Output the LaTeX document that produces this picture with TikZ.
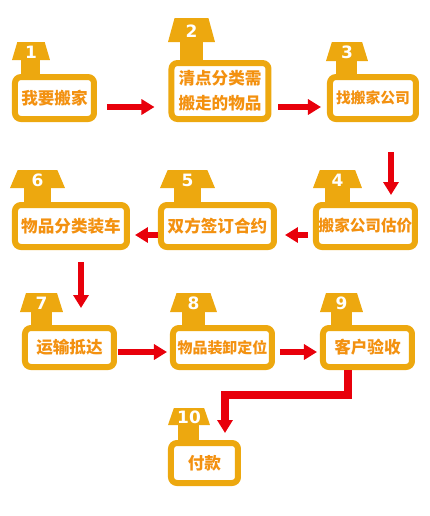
\documentclass[tikz,border=0pt]{standalone}
\usepackage{fontspec}
\newfontfamily\cjk{Noto Sans CJK SC}
\newfontfamily\numfont{DejaVu Sans}
\usetikzlibrary{arrows.meta}

\definecolor{gold}{HTML}{EDA80F}
\definecolor{txtorange}{HTML}{F39110}
\definecolor{flowred}{HTML}{E8000B}

\tikzset{
  stepbox/.style={draw=gold, line width=3pt, fill=white, rounded corners=3pt,
    inner sep=0pt, align=center, text=txtorange,
    font=\cjk\bfseries\fontsize{8.3}{12.5}\selectfont},
  numlabel/.style={text=white, inner sep=0pt, font=\numfont\bfseries\fontsize{8.5}{9}\selectfont},
  flow/.style={draw=flowred, line width=3pt, -{Triangle[length=6.5pt,width=7.5pt]}},
}

\begin{document}
\begin{tikzpicture}[x=0.5pt, y=-0.5pt]
  \useasboundingbox (0,0) rectangle (430,516);
  % steps: name / centre / size / tab centre, width, top, bottom / text
  \foreach \n/\cx/\cy/\w/\h/\tx/\tw/\ta/\tz/\txt in {
      1/54.5/98/85/48/31/38/42/60/{我要搬家},
      2/220/91/103/62/191.5/47/18/42/{清点分类需\\搬走的物品},
      3/373/98/92/48/347/42/42/61/{\fontsize{7.4}{9}\selectfont 找搬家公司},
      4/365.5/226/105/48/337.5/49/170/188/{\fontsize{7.8}{9}\selectfont 搬家公司估价},
      5/217.5/226/119/48/187.5/55/170/188/{双方签订合约},
      6/71/226/118/48/37.5/55/170/188/{物品分类装车},
      7/69.5/347.5/95/45/41.5/43/293/312/{运输抵达},
      8/222.5/347.5/105/45/193.5/47/293/312/{\fontsize{7.5}{9}\selectfont 物品装卸定位},
      9/367.5/347.5/95/45/341.5/43/293/312/{客户验收},
      10/204.5/463/73/46/189/42/408/425/{付款}}{
    \fill[gold] ({\tx-\tw/2},\tz) -- ({\tx+\tw/2},\tz) -- ({\tx+0.36*\tw},\ta)
      -- ({\tx-0.36*\tw},\ta) -- cycle;
    \fill[gold] ({\tx-0.25*\tw},{\tz-1}) rectangle ({\tx+0.25*\tw},{\cy-\h/2+3});
    \node[stepbox, minimum width={(\w-6)*0.5pt}, minimum height={(\h-6)*0.5pt}]
      (b\n) at (\cx,\cy) {\txt};
    \node[numlabel] (t\n) at (\tx,{(\ta+\tz)/2+1}) {\n};
  }

  \draw[flow, shorten <=5pt, shorten >=7pt] ([yshift=-4.5pt]b1.east) -- ([yshift=-4.5pt]b1.east -| b2.west);
  \draw[flow, shorten <=3.5pt, shorten >=3pt] ([yshift=-4.5pt]b3.west -| b2.east) -- ([yshift=-4.5pt]b3.west);
  \draw[flow, shorten <=15pt, shorten >=3.5pt] ([xshift=9pt]b3.south) -- ([xshift=9pt]b3.south |- b4.north);
  \draw[flow, shorten <=2.5pt, shorten >=4pt] ([yshift=-4.5pt]b4.west) -- ([yshift=-4.5pt]b4.west -| b5.east);
  \draw[flow, shorten >=2.5pt] ([yshift=-4.5pt]b5.west) -- ([yshift=-4.5pt]b5.west -| b6.east);
  \draw[flow, shorten <=6pt, shorten >=8.5pt] ([xshift=5pt]b6.south) -- ([xshift=5pt]b6.south |- b7.north);
  \draw[flow, shorten <=0.5pt, shorten >=1.5pt] ([yshift=-2.25pt]b7.east) -- ([yshift=-2.25pt]b7.east -| b8.west);
  \draw[flow, shorten <=2.5pt, shorten >=1.5pt] ([yshift=-2.25pt]b8.east) -- ([yshift=-2.25pt]b8.east -| b9.west);
  \draw[flow, line width=3.75pt, shorten >=3.5pt] ([xshift=-9.75pt]b9.south) -- ++(0,25) -| ([xshift=10.25pt]b10.north);
\end{tikzpicture}
\end{document}
